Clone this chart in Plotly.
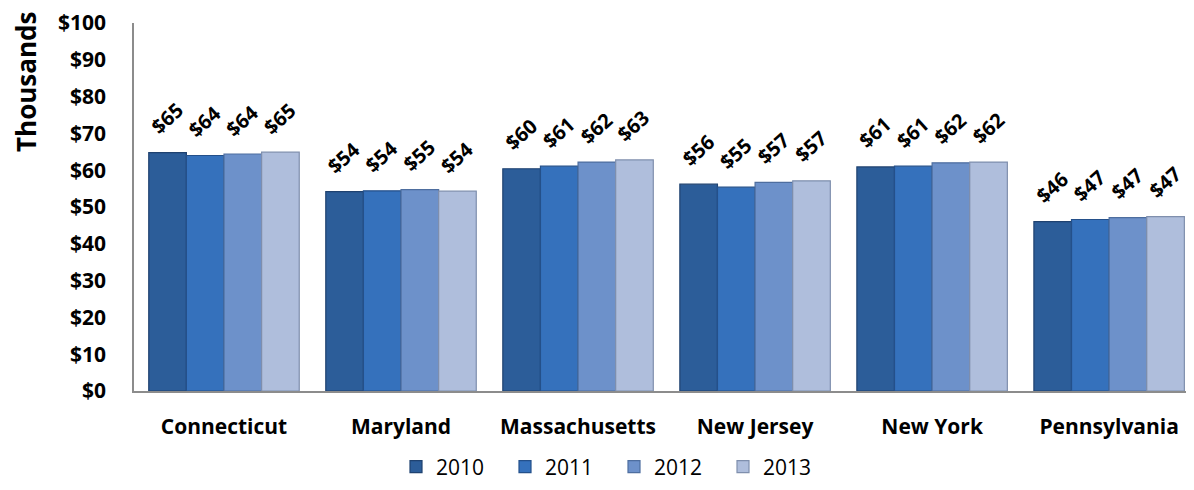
import plotly.graph_objects as go

states = ["Connecticut", "Maryland", "Massachusetts", "New Jersey", "New York", "Pennsylvania"]
years = ["2010", "2011", "2012", "2013"]
v2010 = [64.8, 54.2, 60.4, 56.2, 60.9, 46.0]
v2011 = [64.0, 54.4, 61.1, 55.4, 61.1, 46.6]
v2012 = [64.4, 54.7, 62.2, 56.7, 62.0, 47.1]
v2013 = [64.9, 54.3, 62.8, 57.1, 62.2, 47.4]
y_ticks = [0, 10, 20, 30, 40, 50, 60, 70, 80, 90, 100]
y_tick_labels = ["$" + str(t) for t in y_ticks]

series = [v2010, v2011, v2012, v2013]
fills = ["#2C5D99", "#3571BC", "#6D91CA", "#AFBEDC"]
edges = ["#1F4270", "#24508A", "#4E6E9F", "#7F8FAD"]

FONT = "Open Sans"
BODY = 8  # default page margin of the html body
W, H = 1194 - 2 * BODY, 490 - 2 * BODY
L, T = 134 - BODY, 23 - BODY
B = H - (391 - BODY)
BARGAP = 0.15
plot_w = W - L
CAT_PX = (plot_w - (224 - 134)) / (5 + (1 - BARGAP) / 2) - 0.3
span = plot_w / CAT_PX
x0 = -(224 - 134) / CAT_PX

fig = go.Figure()
annotations = []
bar_px = CAT_PX * (1 - BARGAP) / len(years)
for i, (yr, vals, fc, ec) in enumerate(zip(years, series, fills, edges)):
    fig.add_trace(go.Bar(
        name=yr, x=states, y=vals,
        marker=dict(color=fc, line=dict(color=ec, width=1.2)),
        cliponaxis=False,
    ))
    shift = (i - (len(years) - 1) / 2) * bar_px
    for s, v in zip(states, vals):
        annotations.append(dict(
            x=s, y=v, xref="x", yref="y", text="$" + str(int(v + 0.5)),
            showarrow=False, textangle=-42, xshift=shift - 1, yshift=34,
            xanchor="center", yanchor="middle",
            font=dict(family=FONT, size=20, color="black", weight="bold"),
        ))

annotations.append(dict(text="Thousands", xref="paper", yref="paper",
                        x=(26 - 134) / plot_w, y=(391 - 82) / 368,
                        xanchor="center", yanchor="middle", textangle=-90, showarrow=False,
                        font=dict(family=FONT, size=26, color="black", weight="bold")))

fig.update_layout(
    width=W, height=H,
    margin=dict(l=L, r=0, t=T, b=B),
    barmode="group", bargap=BARGAP, bargroupgap=0,
    plot_bgcolor="white", paper_bgcolor="white",
    font=dict(family=FONT, color="black"),
    showlegend=True,
    legend=dict(orientation="h", xref="container", x=(614 - BODY) / W, xanchor="center",
                yref="container", y=(490 - 467 - BODY) / H, yanchor="middle",
                font=dict(family=FONT, size=21, color="black"),
                entrywidth=64, entrywidthmode="pixels",
                traceorder="normal", itemclick=False),
    xaxis=dict(range=[x0, x0 + span], showline=True, linecolor="#8C8C8C", linewidth=1.5,
               showgrid=False, ticks="", ticklabelstandoff=16,
               tickfont=dict(family=FONT, size=21, color="black", weight="bold")),
    yaxis=dict(range=[0, 100], tickvals=y_ticks, ticktext=y_tick_labels,
               showline=True, linecolor="#8C8C8C", linewidth=1.5, showgrid=False,
               ticks="", ticklabelstandoff=22, zeroline=False,
               tickfont=dict(family=FONT, size=21, color="black", weight="bold")),
    annotations=annotations,
)

fig.write_html("out.html")
